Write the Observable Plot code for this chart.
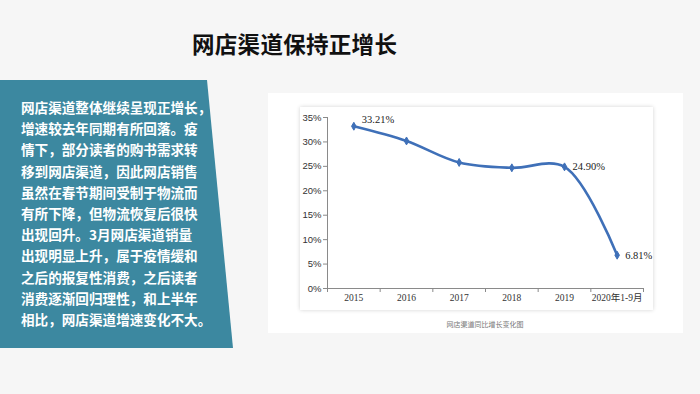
<!DOCTYPE html>
<html>
<head>
<meta charset="utf-8">
<script src="https://cdn.jsdelivr.net/npm/d3@7"></script>
<script src="https://cdn.jsdelivr.net/npm/@observablehq/plot@0.6"></script>
<style>
  html, body { margin: 0; padding: 0; }
  body {
    width: 700px; height: 394px; position: relative; overflow: hidden;
    background: #f6f6f6;
    font-family: "Noto Sans CJK SC", "Noto Sans", sans-serif;
  }
  #title {
    position: absolute; left: 192px; top: 29px;
    font-size: 22.5px; font-weight: bold; color: #111; letter-spacing: 0.3px;
    line-height: 28px; white-space: nowrap;
  }
  #panel {
    position: absolute; left: 0; top: 80px; width: 233px; height: 268px;
    background: #3c88a0;
    clip-path: polygon(0 0, 207px 0, 233px 100%, 0 100%);
  }
  #paneltext {
    position: absolute; left: 21px; top: 17px;
    color: #fff; font-weight: bold; font-size: 13.6px; line-height: 21.2px;
    white-space: nowrap;
  }
  #outer {
    position: absolute; left: 268px; top: 93px; width: 415px; height: 240px;
    background: #fff;
  }
  #chartbox {
    position: absolute; left: 300px; top: 107px; width: 353px; height: 203px;
    background: #fff; box-shadow: 0 0 4px rgba(0,0,0,0.18);
  }
  #caption {
    position: absolute; left: 385px; width: 200px; top: 319px; text-align: center;
    font-size: 7px; color: #777; line-height: 10px;
  }
</style>
</head>
<body>
<div id="title">网店渠道保持正增长</div>
<div id="panel"><div id="paneltext"></div></div>
<div id="outer"></div>
<div id="chartbox"></div>
<div id="caption">网店渠道同比增长变化图</div>
<script>
const panelLines = [
  "网店渠道整体继续呈现正增长，",
  "增速较去年同期有所回落。疫",
  "情下，部分读者的购书需求转",
  "移到网店渠道，因此网店销售",
  "虽然在春节期间受制于物流而",
  "有所下降，但物流恢复后很快",
  "出现回升。3月网店渠道销量",
  "出现明显上升，属于疫情缓和",
  "之后的报复性消费，之后读者",
  "消费逐渐回归理性，和上半年",
  "相比，网店渠道增速变化不大。"
];
const categories = ["2015", "2016", "2017", "2018", "2019", "2020年1-9月"];
const growth = [33.21, 30.2, 25.8, 24.7, 24.90, 6.81];
const labelAbove = ["2015"];
const labelRight = ["2019", "2020年1-9月"];
const yTicks = [0, 5, 10, 15, 20, 25, 30, 35];

document.getElementById("paneltext").innerHTML = panelLines.join("<br>");

const data = categories.map((c, i) => ({cat: c, idx: i + 0.5, value: growth[i]}));
const boundaries = d3.range(categories.length + 1);

const lineColor = "#3f70b8";
const axisColor = "#8a8a8a";
const labelStyle = {
  x: "idx", y: "value",
  text: d => d.value.toFixed(2) + "%",
  textAnchor: "start",
  fill: "#222", fontSize: 10.5,
  fontFamily: "Liberation Serif, serif"
};

const chart = Plot.plot({
  width: 353,
  height: 203,
  marginTop: 10,
  marginRight: 10,
  marginBottom: 22,
  marginLeft: 27,
  style: {background: "transparent", overflow: "visible"},
  x: {domain: [0, categories.length]},
  y: {domain: [0, 35]},
  marks: [
    Plot.ruleY([0], {stroke: axisColor, strokeWidth: 1}),
    Plot.ruleX([0], {y1: 0, y2: 35, stroke: axisColor, strokeWidth: 1}),
    Plot.axisY({
      ticks: yTicks, tickSize: 4, tickPadding: 2,
      tickFormat: d => d + "%",
      stroke: axisColor, color: "#333",
      fontSize: 9.5, fontFamily: "Liberation Sans, Arial, sans-serif",
      label: null
    }),
    Plot.axisX({
      ticks: boundaries, tickSize: 4, tickFormat: () => "",
      stroke: axisColor, label: null
    }),
    Plot.axisX({
      ticks: data.map(d => d.idx), tickSize: 0, tickPadding: 6,
      tickFormat: v => categories[Math.round(v - 0.5)],
      color: "#333",
      fontSize: 9.5, fontFamily: "Liberation Serif, 'Noto Sans CJK SC', serif",
      label: null
    }),
    Plot.line(data, {
      x: "idx", y: "value", curve: "catmull-rom",
      stroke: lineColor, strokeWidth: 2.6
    }),
    Plot.dot(data, {
      x: "idx", y: "value", symbol: "diamond", r: 2.4,
      fill: lineColor, stroke: lineColor, strokeWidth: 1
    }),
    Plot.text(data.filter(d => labelAbove.includes(d.cat)), {...labelStyle, dx: 8, dy: -7}),
    Plot.text(data.filter(d => labelRight.includes(d.cat)), {...labelStyle, dx: 8, dy: 0})
  ]
});
chart.style.position = "absolute";
chart.style.left = "0px";
chart.style.top = "0px";
document.getElementById("chartbox").appendChild(chart);
</script>
</body>
</html>
